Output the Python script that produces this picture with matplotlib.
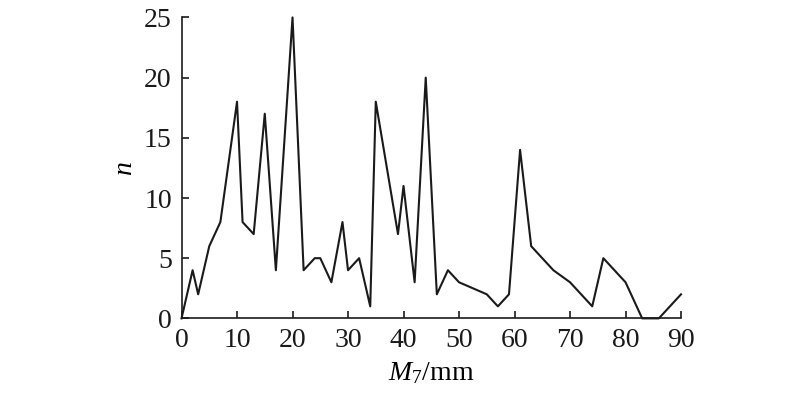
import matplotlib
matplotlib.use("Agg")
import matplotlib.pyplot as plt

m7 = [0, 2, 3, 5, 7, 10, 11, 13, 15, 17, 20, 22, 24, 25, 27, 29, 30, 32, 34, 35,
      39, 40, 42, 44, 46, 48, 50, 55, 57, 59, 61, 63, 67, 70, 74, 76, 80, 83, 86, 90]
n = [0, 4, 2, 6, 8, 18, 8, 7, 17, 4, 25, 4, 5, 5, 3, 8, 4, 5, 1, 18,
     7, 11, 3, 20, 2, 4, 3, 2, 1, 2, 14, 6, 4, 3, 1, 5, 3, 0, 0, 2]
xticks = [0, 10, 20, 30, 40, 50, 60, 70, 80, 90]
yticks = [0, 5, 10, 15, 20, 25]

plt.rcParams['font.family'] = ['Liberation Serif', 'DejaVu Serif']
plt.rcParams['mathtext.fontset'] = 'custom'
plt.rcParams['mathtext.rm'] = 'Liberation Serif'
plt.rcParams['mathtext.it'] = 'Liberation Serif:italic'

fig = plt.figure(figsize=(8, 3.96), dpi=100)
ax = fig.add_axes([0.2269, 0.196, 0.8513 - 0.2269, 0.956 - 0.196])

ax.plot(m7, n, color='#1a1a1a', lw=1.5, clip_on=False)

ax.set_xlim(0, 90)
ax.set_ylim(0, 25)
ax.set_xticks(xticks)
ax.set_yticks(yticks)
ax.spines['top'].set_visible(False)
ax.spines['right'].set_visible(False)
for s in ('left', 'bottom'):
    ax.spines[s].set_linewidth(1.2)
    ax.spines[s].set_color('#1a1a1a')
ax.tick_params(direction='in', length=5, width=1.2, labelsize=20,
               colors='#1a1a1a')
ax.tick_params(axis='x', pad=7)
ax.tick_params(axis='y', pad=7)

ax.set_xlabel(r'$M_{\mathit{7}}$/mm', fontsize=20, labelpad=5)
ax.set_ylabel('n', fontsize=20, style='italic', labelpad=5, rotation=90)

fig.savefig('out.png', dpi=100)
